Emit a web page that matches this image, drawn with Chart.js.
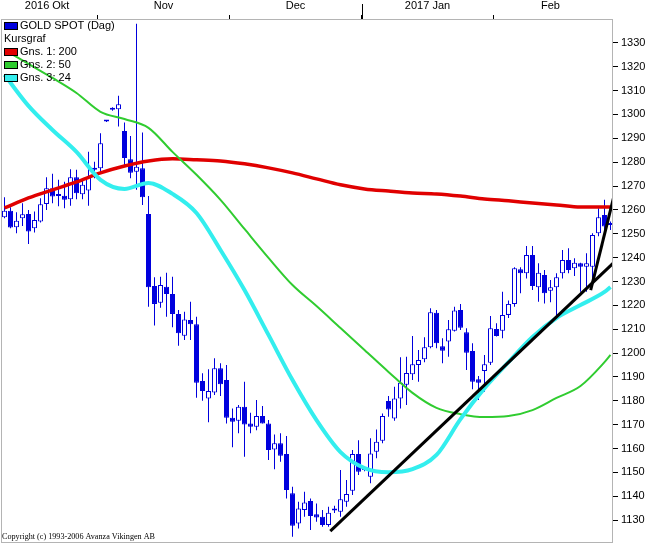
<!DOCTYPE html>
<html>
<head>
<meta charset="utf-8">
<script src="https://cdn.jsdelivr.net/npm/chart.js@4.4.1/dist/chart.umd.min.js"></script>
<style>
  html, body { margin: 0; padding: 0; background: #fff; }
  #wrap { width: 649px; height: 544px; }
</style>
</head>
<body>
<div id="wrap"><canvas id="chart" width="649" height="544"></canvas></div>
<script>
// daily candles, index 0 = 10 Oct 2016, one per trading day
const open = [1256.9,1259.6,1252.7,1256.5,1258.3,1252.3,1255.1,1262.5,1269.1,1266.4,
  1265.9,1264.5,1273.7,1266.6,1268.1,1277.5,1277.5,1297.0,1302.0,1302.2,
  1293.1,1281.2,1276.0,1277.5,1258.3,1228.1,1221.1,1227.8,1224.8,1216.4,
  1207.3,1213.9,1212.1,1188.3,1181.0,1183.5,1193.6,1188.7,1172.9,1171.6,
  1177.5,1170.5,1169.1,1173.6,1170.5,1159.6,1162.2,1157.7,1141.2,1128.6,
  1134.2,1138.0,1132.5,1131.4,1127.9,1134.0,1133.5,1137.7,1142.3,1157.7,
  1151.0,1148.2,1158.6,1163.3,1179.9,1172.6,1181.0,1186.7,1191.1,1195.0,
  1197.4,1202.4,1216.9,1202.9,1204.8,1209.4,1218.0,1208.7,1200.9,1189.0,
  1192.5,1195.9,1210.1,1209.4,1216.0,1220.6,1235.1,1233.4,1241.1,1227.6,
  1232.7,1226.1,1227.6,1233.4,1239.0,1235.5,1237.6,1236.2,1236.2,1250.2,
  1257.9,1253.7]
const high = [1265.3,1261.1,1259.0,1262.8,1260.0,1259.3,1264.9,1273.7,1275.1,1272.6,
  1271.8,1277.0,1276.8,1272.6,1284.4,1280.2,1292.1,1297.5,1303.0,1307.8,
  1296.6,1291.0,1338.0,1292.4,1265.8,1231.8,1232.0,1233.7,1232.0,1218.0,
  1217.3,1221.5,1215.2,1191.5,1193.2,1197.8,1195.7,1195.0,1176.8,1178.2,
  1188.0,1175.0,1180.3,1177.8,1171.9,1165.9,1166.4,1165.2,1144.0,1137.7,
  1141.9,1139.1,1137.0,1134.2,1135.6,1136.0,1151.0,1146.8,1159.4,1163.5,
  1151.5,1164.3,1168.0,1174.7,1182.0,1185.9,1198.2,1198.5,1207.1,1201.3,
  1206.6,1218.8,1218.0,1206.2,1213.9,1219.4,1220.6,1210.4,1204.1,1190.4,
  1199.2,1215.5,1212.5,1225.7,1222.0,1236.0,1236.0,1244.9,1244.9,1237.6,
  1234.8,1230.6,1233.4,1243.2,1243.9,1239.7,1237.9,1241.8,1250.2,1260.7,
  1264.2,1255.1]
const low = [1256.5,1252.3,1250.2,1253.3,1245.7,1250.5,1254.7,1260.0,1262.8,1261.5,
  1260.7,1261.7,1264.5,1264.5,1261.7,1273.3,1275.6,1296.8,1301.5,1294.9,
  1278.1,1273.3,1268.4,1262.1,1219.4,1211.5,1219.0,1215.2,1210.8,1203.1,
  1205.5,1205.5,1181.3,1180.0,1171.0,1182.4,1182.0,1170.5,1160.5,1166.4,
  1156.5,1166.4,1167.7,1170.5,1155.2,1151.3,1154.4,1139.1,1123.0,1126.5,
  1131.4,1125.8,1129.3,1127.2,1127.2,1133.0,1131.4,1135.6,1140.5,1148.9,
  1150.5,1145.4,1155.9,1162.2,1173.3,1171.6,1176.8,1178.2,1188.7,1188.0,
  1196.2,1202.0,1202.0,1195.7,1198.5,1209.0,1209.7,1192.9,1184.8,1180.3,
  1183.8,1195.0,1206.9,1206.2,1214.7,1219.4,1225.1,1231.3,1226.4,1221.5,
  1220.8,1221.3,1214.0,1231.3,1233.4,1232.3,1225.7,1225.7,1230.6,1249.0,
  1251.6,1251.6]
const close = [1259.6,1252.6,1255.4,1258.2,1250.9,1255.8,1262.4,1269.1,1265.6,1265.8,
  1264.2,1273.7,1267.0,1270.5,1273.7,1276.8,1287.9,1297.2,1302.3,1304.3,
  1281.7,1275.6,1278.1,1265.3,1227.6,1220.6,1228.5,1224.8,1216.4,1208.3,
  1214.1,1212.1,1187.6,1184.1,1184.1,1193.6,1186.9,1172.9,1171.2,1177.5,
  1170.1,1169.1,1173.6,1170.5,1159.4,1162.2,1157.0,1142.6,1127.6,1134.9,
  1137.4,1131.7,1131.1,1127.9,1133.1,1134.3,1138.7,1140.9,1157.7,1150.3,
  1151.2,1157.9,1162.8,1173.6,1176.4,1181.0,1187.6,1191.6,1195.3,1197.1,
  1202.4,1217.1,1204.1,1201.0,1210.0,1217.8,1210.6,1200.1,1188.0,1187.6,
  1195.3,1210.4,1207.1,1216.0,1220.6,1235.5,1233.4,1241.1,1228.1,1233.7,
  1225.1,1227.6,1231.8,1239.0,1234.8,1237.9,1236.2,1237.6,1249.5,1256.9,
  1253.0,1253.7]

const maIdx = [0,4,8,12,16,20,24,28,32,36,40,44,48,52,56,60,64,68,72,76,80,84,88,92,96,100,101]
const ma200 = [1260.8,1265.0,1268.4,1271.7,1275.5,1278.4,1280.5,1281.4,1281.0,1280.5,1279.3,1277.6,1275.5,
  1273.0,1270.5,1268.8,1267.9,1267.1,1266.7,1265.8,1264.6,1263.8,1262.9,1262.1,1261.2,1261.2,1261.2]
const ma50 = [1327.1,1321.2,1315.3,1309.0,1301.1,1298.1,1294.4,1284.3,1274.7,1264.2,1252.0,1239.9,1228.5,
  1219.7,1210.5,1201.3,1192.1,1183.3,1177.0,1174.4,1173.2,1173.6,1176.1,1181.2,1186.2,1196.2,1199.2]
const ma24 = [1316.6,1303.6,1293.5,1284.3,1272.6,1268.8,1271.3,1266.7,1258.7,1243.2,1226.4,1207.6,1188.7,
  1171.9,1158.5,1151.8,1150.1,1151.4,1157.3,1172.3,1185.3,1196.2,1206.7,1214.7,1220.1,1225.6,1227.7]

// hand drawn trend lines (candle index / price)
const trend1X = [54.3, 101.5]
const trend1Y = [1125.4, 1237.8]
const trend2X = [97.7, 101.5]
const trend2Y = [1226.4, 1265.0]

const monthLabels = ['2016 Okt', 'Nov', 'Dec', '2017 Jan', 'Feb']
const monthCenters = [7.1, 26.5, 48.5, 70.5, 91]
const monthBounds = [15.5, 37.5, 59.5, 81.5]
const yearBound = 59.5
const yTicks = [1130,1140,1150,1160,1170,1180,1190,1200,1210,1220,1230,1240,1250,1260,1270,1280,1290,1300,1310,1320,1330]

const legendLabels = ['GOLD SPOT (Dag)', 'Kursgraf', 'Gns. 1: 200', 'Gns. 2: 50', 'Gns. 3: 24']

const BLUE = '#0000dd'
const RED = '#e00000'
const GREEN = '#30cc30'
const CYAN = '#33eeee'
const legendColors = [BLUE, null, RED, GREEN, CYAN]
const FONT = '"Liberation Sans", Arial, sans-serif'

const pts = (xs, ys) => xs.map((x, i) => ({ x: x, y: ys[i] }))

// kill the label overflow padding so the plot fills the frame
const noPad = (s) => {
    s.paddingTop = 0
    s.paddingBottom = 0
    s.paddingLeft = 0
    s.paddingRight = 0
}

// frame, year tick, legend and copyright
const decor = {
    id: 'decor',
    afterDraw(chart) {
        const ctx = chart.ctx
        const a = chart.chartArea
        ctx.save()
        ctx.strokeStyle = '#b4b4b4'
        ctx.lineWidth = 1
        ctx.strokeRect(a.left + 0.5, a.top + 0.5, a.right - a.left - 1, a.bottom - a.top - 1)

        const yx = Math.round(chart.scales.x.getPixelForValue(yearBound)) + 0.5
        ctx.strokeStyle = '#000'
        ctx.beginPath()
        ctx.moveTo(yx, 4)
        ctx.lineTo(yx, a.top)
        ctx.stroke()

        ctx.font = '11px ' + FONT
        ctx.textBaseline = 'middle'
        legendLabels.forEach((t, i) => {
            const cy = 26 + i * 13
            if (legendColors[i]) {
                ctx.fillStyle = legendColors[i]
                ctx.fillRect(4, cy - 4, 14, 8)
                ctx.strokeStyle = '#000'
                ctx.strokeRect(4.5, cy - 3.5, 13, 7)
                ctx.fillStyle = '#000'
                ctx.fillText(t, 20, cy)
            } else {
                ctx.fillStyle = '#000'
                ctx.fillText(t, 4, cy)
            }
        })

        ctx.font = '9px "Liberation Serif", "Times New Roman", serif'
        ctx.fillText('Copyright (c) 1993-2006 Avanza Vikingen AB', 2, 537, 153)
        ctx.restore()
    }
}

const chart = new Chart(document.getElementById('chart'), {
    type: 'bar',
    data: {
        datasets: [
            {
                type: 'line',
                data: pts(trend1X, trend1Y),
                borderColor: '#000',
                borderWidth: 3,
                pointRadius: 0,
                order: 0,
            },
            {
                type: 'line',
                data: pts(trend2X, trend2Y),
                borderColor: '#000',
                borderWidth: 3,
                pointRadius: 0,
                order: 0,
            },
            {
                type: 'line',
                data: pts(maIdx, ma24),
                borderColor: CYAN,
                borderWidth: 4,
                pointRadius: 0,
                cubicInterpolationMode: 'monotone',
                order: 1,
            },
            {
                type: 'line',
                data: pts(maIdx, ma50),
                borderColor: GREEN,
                borderWidth: 2,
                pointRadius: 0,
                cubicInterpolationMode: 'monotone',
                order: 2,
            },
            {
                type: 'line',
                data: pts(maIdx, ma200),
                borderColor: RED,
                borderWidth: 3.5,
                pointRadius: 0,
                cubicInterpolationMode: 'monotone',
                order: 3,
            },
            {
                // candle bodies
                data: open.map((o, i) => ({ x: i, y: [o, close[i]] })),
                backgroundColor: (c) => close[c.dataIndex] >= open[c.dataIndex] ? '#ffffff' : BLUE,
                borderColor: BLUE,
                borderWidth: 1,
                borderSkipped: false,
                barThickness: 5,
                minBarLength: 2,
                grouped: false,
                inflateAmount: 0,
                order: 5,
            },
            {
                // wicks
                data: high.map((h, i) => ({ x: i, y: [low[i], h] })),
                backgroundColor: BLUE,
                barThickness: 1,
                grouped: false,
                inflateAmount: 0,
                order: 6,
            },
        ]
    },
    options: {
        responsive: false,
        animation: false,
        layout: { padding: { left: 1, bottom: 1, top: 0, right: 0 } },
        plugins: {
            legend: { display: false },
            tooltip: { enabled: false },
        },
        scales: {
            x: {
                type: 'linear',
                position: 'top',
                offset: false,
                min: -7 / 12,
                max: 101.5 - 1 / 12,
                afterBuildTicks: (s) => {
                    s.ticks = monthCenters.concat(monthBounds).sort((a, b) => a - b).map((v) => ({ value: v }))
                },
                afterFit: (s) => { s.height = 19; noPad(s) },
                ticks: {
                    autoSkip: false,
                    maxRotation: 0,
                    padding: 2,
                    color: '#000',
                    font: { family: FONT, size: 11 },
                    callback: (v) => {
                        const i = monthCenters.indexOf(v)
                        return i < 0 ? '' : monthLabels[i]
                    },
                },
                grid: {
                    offset: false,
                    drawOnChartArea: false,
                    tickLength: 4,
                    tickColor: (c) => (c.tick && monthBounds.includes(c.tick.value)) ? '#000' : 'rgba(0,0,0,0)',
                },
                border: { display: false },
            },
            y: {
                type: 'linear',
                position: 'right',
                min: 1120.4,
                max: 1340,
                afterBuildTicks: (s) => { s.ticks = yTicks.map((v) => ({ value: v })) },
                afterFit: (s) => { s.width = 36; noPad(s) },
                ticks: {
                    padding: 3,
                    color: '#000',
                    font: { family: FONT, size: 11 },
                    callback: (v) => String(v),
                },
                grid: {
                    drawOnChartArea: false,
                    tickLength: 5,
                    tickColor: '#000',
                },
                border: { display: false },
            },
        },
    },
    plugins: [decor],
})
</script>
</body>
</html>
